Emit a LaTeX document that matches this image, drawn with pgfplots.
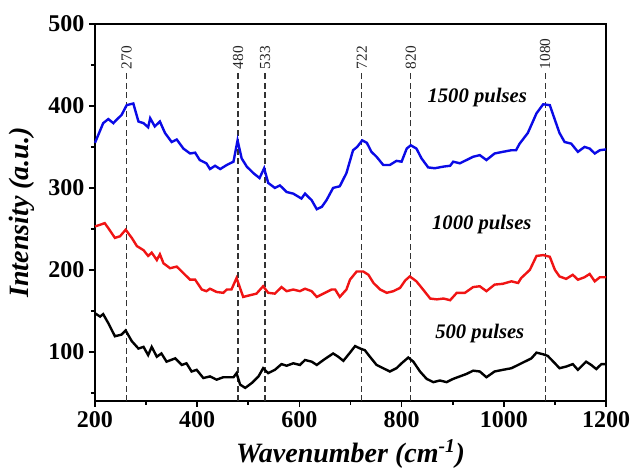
\documentclass[border=0pt]{standalone}
\usepackage{pgfplots}
\pgfplotsset{compat=1.18}
\usepackage{fontspec}
\setmainfont{Liberation Serif}
\definecolor{cblue}{RGB}{10,10,230}
\definecolor{cred}{RGB}{240,20,20}
\begin{document}
\begin{tikzpicture}
\begin{axis}[
  width=383.25pt, height=282.75pt, scale only axis,
  xmin=200, xmax=1200, ymin=40, ymax=500,
  xtick={200,400,...,1200}, ytick={100,200,...,500},
  minor xtick={300,500,...,1100}, minor ytick={50,150,...,450},
  tick align=outside, tick pos=left,
  major tick length=4.5pt, minor tick length=3pt,
  axis line style={line width=1.5pt},
  every major tick/.append style={line width=1.3pt, black},
  every minor tick/.append style={line width=1.3pt, black},
  /pgf/number format/assume math mode=true,
  /pgf/number format/1000 sep={},
  ticklabel style={font=\bfseries\fontsize{18}{18}\selectfont},
  xlabel={\bfseries\itshape Wavenumber (cm\textsuperscript{-1})},
  ylabel={\bfseries\itshape Intensity (a.u.)},
  label style={font=\fontsize{21}{21}\selectfont},
  xlabel style={at={(axis description cs:0.5,-0.162)}, anchor=base},
  ylabel style={at={(axis description cs:-0.143,0.5)}, anchor=center},
  clip=false,
]
\pgfplotsset{peak/.style={black!80, line width=1pt, dash pattern=on 4.5pt off 2.6pt}}
\addplot[peak] coordinates {(262,40) (262,440)};
\addplot[peak] coordinates {(480,40) (480,440)};
\addplot[peak] coordinates {(533,40) (533,440)};
\addplot[peak] coordinates {(722,40) (722,440)};
\addplot[peak] coordinates {(818,40) (818,440)};
\addplot[peak] coordinates {(1081,40) (1081,440)};

\addplot[cblue, line width=1.8pt] coordinates {
(200,355)(216,379)(226,384)(236,379)(242,383)(252,389)(262,401)(275,403)(285,381)(295,379)
(304,374)(308,385)(317,375)(327,381)(337,367)(350,356)(360,359)(373,348)(386,342)(396,343)
(405,334)(418,330)(425,323)(435,327)(445,323)(458,328)(471,332)(479,358)(487,336)(497,326)
(510,318)(522,312)(531,324)(539,306)(552,300)(562,303)(575,295)(588,293)(604,287)(611,293)
(624,285)(634,274)(644,277)(653,285)(666,300)(679,302)(692,318)(705,346)(713,350)(723,358)
(732,355)(741,344)(751,338)(764,328)(777,328)(790,333)(800,332)(810,348)(818,352)(829,348)
(839,336)(852,325)(865,324)(882,326)(895,327)(901,332)(914,330)(927,334)(940,338)(953,340)
(966,334)(982,342)(998,344)(1015,346)(1024,346)(1031,354)(1047,367)(1064,391)(1077,402)(1090,401)
(1100,383)(1109,367)(1119,356)(1132,354)(1145,344)(1158,350)(1168,348)(1178,342)(1188,346)(1200,347)
};
\addplot[cred, line width=1.8pt] coordinates {
(200,253)(210,255)(219,257)(226,251)(239,239)(249,241)(260,249)(272,239)(282,229)(295,224)
(304,217)(311,221)(321,212)(327,219)(334,208)(347,202)(360,204)(373,196)(386,188)(396,188)
(409,176)(418,174)(425,177)(438,173)(451,172)(458,176)(467,176)(477,190)(490,167)(503,169)
(516,171)(529,180)(539,172)(552,171)(565,179)(575,174)(588,176)(601,174)(611,177)(624,174)
(634,167)(647,171)(663,176)(670,176)(679,167)(692,176)(699,188)(712,198)(725,198)(735,194)
(745,184)(758,176)(771,172)(784,174)(797,178)(807,187)(816,192)(829,186)(842,176)(856,165)
(869,164)(882,165)(895,163)(908,172)(924,172)(940,179)(953,180)(966,174)(982,182)(998,183)
(1015,186)(1028,184)(1034,190)(1051,200)(1064,217)(1077,218)(1090,216)(1100,200)(1109,192)(1122,189)
(1135,194)(1145,188)(1158,191)(1168,195)(1178,186)(1188,191)(1200,191)
};
\addplot[black, line width=1.8pt] coordinates {
(200,147)(210,143)(216,146)(226,135)(239,119)(252,121)(260,126)(272,113)(285,104)(295,106)
(304,96)(311,106)(321,94)(330,98)(340,88)(357,92)(370,84)(379,86)(389,76)(399,78)
(412,68)(425,70)(438,66)(451,69)(458,69)(471,69)(477,74)(484,60)(494,56)(507,62)
(520,70)(529,80)(539,74)(552,78)(565,85)(575,83)(588,86)(601,84)(611,90)(624,88)
(634,84)(647,90)(666,98)(676,94)(686,89)(699,99)(709,107)(719,104)(728,102)(738,94)
(751,84)(764,80)(777,76)(790,80)(800,86)(813,93)(823,88)(836,76)(849,67)(862,63)
(875,65)(888,63)(901,67)(914,70)(927,73)(940,77)(953,76)(966,69)(982,76)(998,78)
(1015,80)(1028,84)(1041,88)(1054,92)(1064,99)(1077,97)(1086,95)(1100,86)(1109,80)(1122,82)
(1135,85)(1145,78)(1161,88)(1171,84)(1181,79)(1191,85)(1200,85)
};

\tikzset{pk/.style={rotate=90, anchor=west, inner sep=1pt, text=black!85, font=\fontsize{11.5}{11.5}\selectfont}}
\node[pk] at (axis cs:262,443) {270};
\node[pk] at (axis cs:480,443) {480};
\node[pk] at (axis cs:533,443) {533};
\node[pk] at (axis cs:722,443) {722};
\node[pk] at (axis cs:818,443) {820};
\node[pk] at (axis cs:1081,443) {1080};

\tikzset{pl/.style={font=\bfseries\itshape\fontsize{15.5}{15.5}\selectfont, inner sep=0pt}}
\node[pl] at (axis cs:948,410) {1500 pulses};
\node[pl] at (axis cs:957,255) {1000 pulses};
\node[pl] at (axis cs:953,122) {500 pulses};
\end{axis}
\path (current axis.south west) ++(-71.25pt,-51pt) coordinate (bbA);
\path (current axis.north east) ++(19.5pt,18pt) coordinate (bbB);
\pgfresetboundingbox
\path (bbA) rectangle (bbB);
\end{tikzpicture}
\end{document}
